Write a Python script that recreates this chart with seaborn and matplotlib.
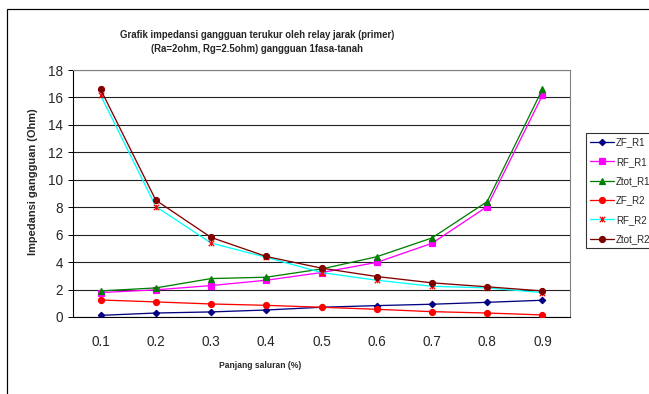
import numpy as np
import pandas as pd
import matplotlib
matplotlib.use("Agg")
import matplotlib.pyplot as plt
from matplotlib.path import Path
from matplotlib.lines import Line2D
from matplotlib.patches import Rectangle
import seaborn as sns

# ---- data ----
categories = ['0.1', '0.2', '0.3', '0.4', '0.5', '0.6', '0.7', '0.8', '0.9']
ZF_R1 = [0.12, 0.29, 0.37, 0.51, 0.71, 0.83, 0.93, 1.07, 1.22]
RF_R1 = [1.78, 1.98, 2.29, 2.68, 3.24, 3.98, 5.37, 8.05, 16.15]
Ztot_R1 = [1.90, 2.12, 2.80, 2.90, 3.50, 4.39, 5.76, 8.41, 16.59]
ZF_R2 = [1.24, 1.10, 0.95, 0.85, 0.71, 0.56, 0.39, 0.29, 0.15]
RF_R2 = [16.15, 8.05, 5.39, 4.35, 3.24, 2.68, 2.24, 2.12, 1.78]
Ztot_R2 = [16.59, 8.51, 5.80, 4.41, 3.56, 2.95, 2.49, 2.20, 1.90]
y_ticks = [0, 2, 4, 6, 8, 10, 12, 14, 16, 18]

title = "Grafik impedansi gangguan terukur oleh relay jarak (primer)\n(Ra=2ohm, Rg=2.5ohm) gangguan 1fasa-tanah"
xlabel = "Panjang saluran (%)"
ylabel = "Impedansi gangguan (Ohm)"

series = {
    'ZF_R1': ZF_R1, 'RF_R1': RF_R1, 'Ztot_R1': Ztot_R1,
    'ZF_R2': ZF_R2, 'RF_R2': RF_R2, 'Ztot_R2': Ztot_R2,
}

star = Path([(-1, -1), (1, 1), (-1, 1), (1, -1), (0, -1), (0, 1)],
            [Path.MOVETO, Path.LINETO, Path.MOVETO, Path.LINETO, Path.MOVETO, Path.LINETO])

styles = {
    'ZF_R1': dict(color='#000080', marker='D', mfc='#000080', mec='#000080', ms=4.5),
    'RF_R1': dict(color='#FF00FF', marker='s', mfc='#FF00FF', mec='#FF00FF', ms=5.5),
    'Ztot_R1': dict(color='#008000', marker='^', mfc='#008000', mec='#008000', ms=6.5),
    'ZF_R2': dict(color='#FF0000', marker='o', mfc='#FF0000', mec='#FF0000', ms=6),
    'RF_R2': dict(color='#00FFFF', marker=star, mfc='#FF0000', mec='#FF0000', ms=5.5),
    'Ztot_R2': dict(color='#800000', marker='o', mfc='#800000', mec='#800000', ms=6),
}

sns.set_style('white')
plt.rcParams['font.family'] = ['Liberation Sans', 'DejaVu Sans']

W, H = 649, 394
fig = plt.figure(figsize=(W / 72, H / 72), dpi=72)
fig.patch.set_facecolor('white')

# outer chart border (cropped on right and bottom)
fig.patches.append(Rectangle((7 / W, -0.1), 1.2, 1 - 8.5 / H + 0.1, transform=fig.transFigure,
                             fill=False, edgecolor='black', linewidth=1.2, zorder=0))

ax = fig.add_axes([73 / W, 1 - 317 / H, (570 - 73) / W, (317 - 70) / H])
ax.set_facecolor('white')

df = pd.DataFrame({'x': categories, **series})
for name in series:
    st = styles[name]
    sns.lineplot(data=df, x='x', y=name, ax=ax, color=st['color'], linewidth=1.3,
                 marker=st['marker'], markerfacecolor=st['mfc'], markeredgecolor=st['mec'],
                 markersize=st['ms'], markeredgewidth=1.2, sort=False, zorder=3)

ax.set_xlim(-0.5, len(categories) - 0.5)
ax.set_ylim(0, 18)
ax.set_yticks(y_ticks)
ax.set_xticks(range(len(categories)))
ax.set_xticklabels(categories)
ax.set_xticks(np.arange(-0.5, len(categories), 1.0), minor=True)
ax.tick_params(axis='x', which='major', length=0, pad=18, labelsize=13.5)
ax.tick_params(axis='x', which='minor', direction='out', length=6, width=1, color='black')
ax.tick_params(axis='y', which='major', direction='out', length=5, width=1, color='black',
               pad=5, labelsize=13.5, left=True)
ax.yaxis.grid(True, color='#202020', linewidth=1.1)
ax.xaxis.grid(False)
ax.set_axisbelow(True)
ax.set_xlabel('')
ax.set_ylabel('')
for s in ['left', 'bottom']:
    ax.spines[s].set_color('black')
    ax.spines[s].set_linewidth(1.1)
for s in ['top', 'right']:
    ax.spines[s].set_color('#808080')
    ax.spines[s].set_linewidth(1.1)
    ax.spines[s].set_visible(True)

fig.text(257 / W, 1 - 42.5 / H, title, ha='center', va='center', fontsize=9.6,
         fontweight='bold', linespacing=1.5)
fig.text(260 / W, 1 - 365 / H, xlabel, ha='center', va='center', fontsize=8.5, fontweight='bold')
fig.text(33 / W, 1 - 182 / H, ylabel, ha='center', va='center', fontsize=11,
         fontweight='bold', rotation=90)

handles = [Line2D([0], [0], color=styles[n]['color'], linewidth=1.3, marker=styles[n]['marker'],
                  markerfacecolor=styles[n]['mfc'], markeredgecolor=styles[n]['mec'],
                  markersize=styles[n]['ms'], markeredgewidth=1.2) for n in series]
leg = ax.legend(handles, list(series.keys()), loc='upper left',
                bbox_to_anchor=(586 / W, 1 - 133 / H), bbox_transform=fig.transFigure,
                frameon=True, fancybox=False, edgecolor='black', fontsize=9.8,
                handlelength=2.4, handletextpad=0.2, labelspacing=0.95,
                borderpad=0.45, borderaxespad=0)
leg.get_frame().set_linewidth(1.1)

fig.savefig('out.png', dpi=72, facecolor='white')
